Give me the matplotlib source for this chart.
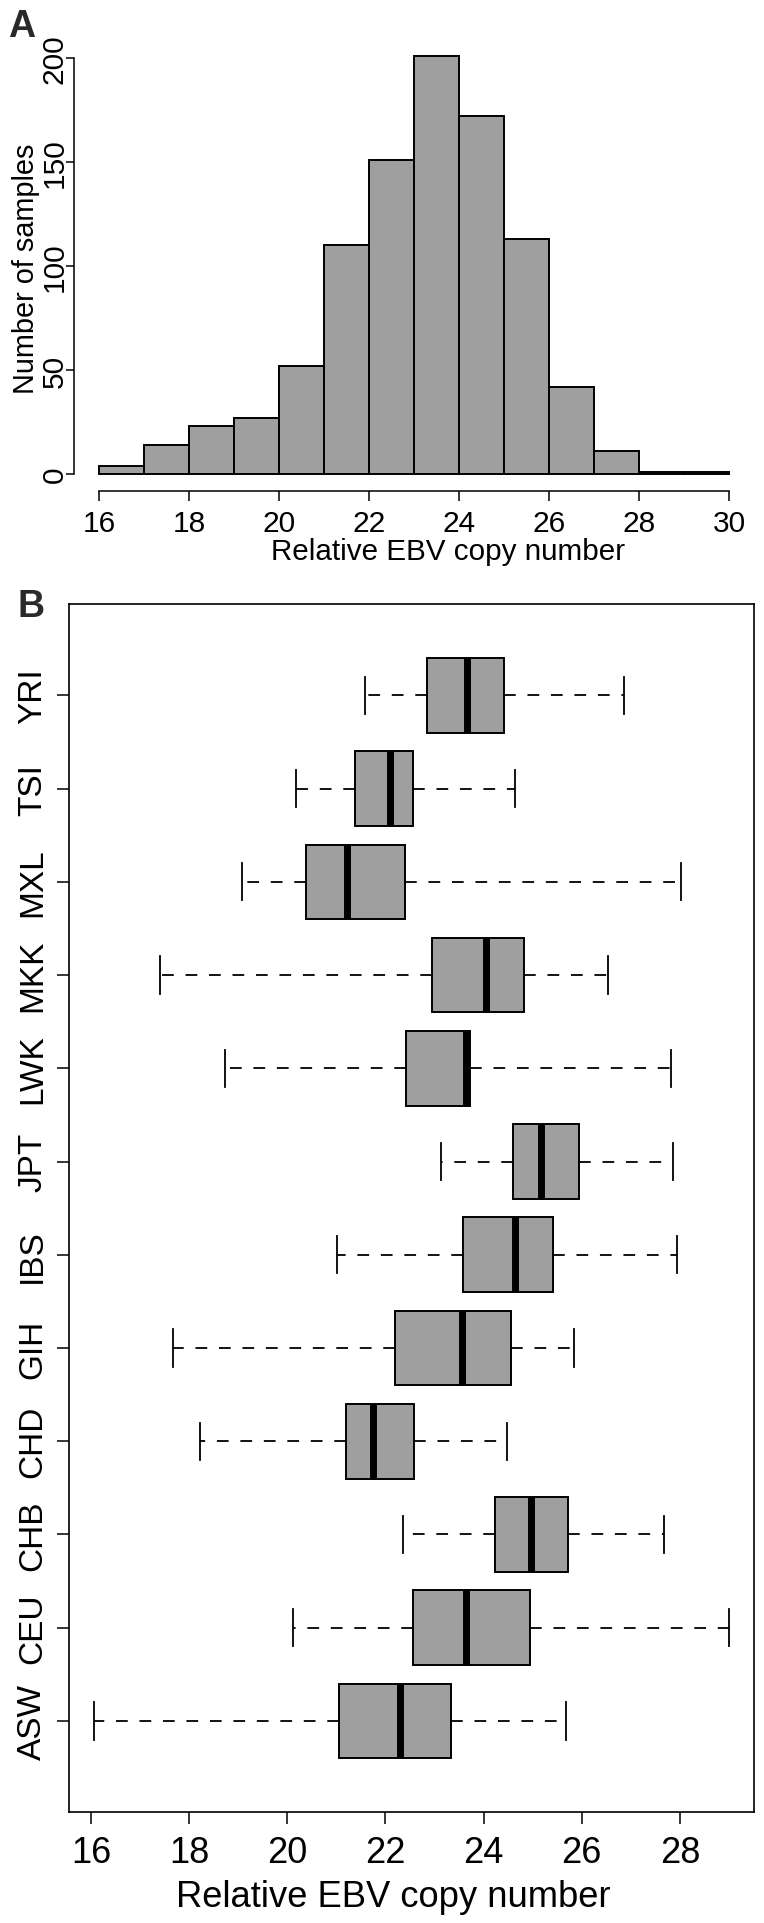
import numpy as np
import matplotlib
matplotlib.use('Agg')
import matplotlib.pyplot as plt

plt.rcParams['font.family'] = ['Liberation Sans', 'DejaVu Sans']

# panel A: histogram of relative EBV copy number
bin_edges = [16, 17, 18, 19, 20, 21, 22, 23, 24, 25, 26, 27, 28, 29, 30]
bin_counts = [4, 14, 23, 27, 52, 110, 151, 201, 172, 113, 42, 11, 1, 1]

# panel B: per-population box stats
populations = ['ASW', 'CEU', 'CHB', 'CHD', 'GIH', 'IBS',
               'JPT', 'LWK', 'MKK', 'MXL', 'TSI', 'YRI']
whisk_lo = [16.07, 20.12, 22.35, 18.23, 17.67, 21.01, 23.13, 18.74, 17.41, 19.07, 20.17, 21.58]
quart_1 = [21.05, 22.56, 24.24, 21.20, 22.19, 23.59, 24.60, 22.42, 22.94, 20.39, 21.39, 22.85]
medians = [22.29, 23.65, 24.96, 21.75, 23.57, 24.65, 25.18, 23.64, 24.05, 21.22, 22.09, 23.66]
quart_3 = [23.34, 24.95, 25.72, 22.59, 24.56, 25.42, 25.95, 23.73, 24.82, 22.40, 22.56, 24.41]
whisk_hi = [25.69, 29.00, 27.67, 24.48, 25.85, 27.95, 27.87, 27.81, 26.54, 28.02, 24.64, 26.86]

W, H = 764, 1924
fig = plt.figure(figsize=(W / 100, H / 100), dpi=100)

GRAY = '#9f9f9f'


def px_box(left, top, right, bottom):
    return [left / W, 1 - bottom / H, (right - left) / W, (bottom - top) / H]


# ---------------- A ----------------
axA = fig.add_axes(px_box(74, 40.3, 754.5, 491.7))
lefts = bin_edges[:-1]
widths = np.diff(bin_edges)
axA.bar(lefts, bin_counts, width=widths, align='edge', color=GRAY,
        edgecolor='black', linewidth=1.4)
span = bin_edges[-1] - bin_edges[0]
axA.set_xlim(bin_edges[0] - 0.04 * span, bin_edges[-1] + 0.04 * span)
top = max(bin_counts)
axA.set_ylim(-0.04 * top, top * 1.04)
for s in ['top', 'right']:
    axA.spines[s].set_visible(False)
axA.spines['left'].set_bounds(0, 200)
axA.spines['bottom'].set_bounds(16, 30)
for s in ['left', 'bottom']:
    axA.spines[s].set_linewidth(1.1)
axA.set_xticks(range(16, 31, 2))
axA.set_yticks([0, 50, 100, 150, 200])
axA.tick_params(axis='x', length=7, width=1.1, labelsize=21.5, pad=6.5)
axA.tick_params(axis='y', length=6, width=1.1, labelsize=21.5, pad=2.2)
axA.set_yticklabels(['0', '50', '100', '150', '200'], rotation=90,
                    rotation_mode='anchor', ha='center', va='baseline')
fig.text(448 / W, 1 - 560 / H, 'Relative EBV copy number', fontsize=21.3,
         ha='center', va='baseline')
fig.text(34 / W, 1 - 269 / H, 'Number of samples', fontsize=20.8,
         rotation=90, rotation_mode='anchor', ha='center', va='baseline')
fig.text(8 / W, 1 - 37 / H, 'A', fontsize=27, fontweight='bold',
         color='#2a2a2a', ha='left', va='baseline')

# ---------------- B ----------------
axB = fig.add_axes(px_box(69, 605, 754.3, 1813.3))
stats = []
for i, name in enumerate(populations):
    stats.append({'label': name, 'whislo': whisk_lo[i], 'q1': quart_1[i],
                  'med': medians[i], 'q3': quart_3[i], 'whishi': whisk_hi[i],
                  'fliers': []})
axB.bxp(stats, positions=range(1, len(populations) + 1), vert=False,
        widths=0.8, capwidths=0.4, patch_artist=True, showfliers=False,
        boxprops=dict(facecolor=GRAY, edgecolor='black', linewidth=1.4),
        medianprops=dict(color='black', linewidth=5, solid_capstyle='butt'),
        whiskerprops=dict(color='black', linewidth=1.3, linestyle=(0, (6.5, 6.5))),
        capprops=dict(color='black', linewidth=1.3))
lo, hi = min(whisk_lo), max(whisk_hi)
pad = 0.04 * (hi - lo)
axB.set_xlim(lo - pad, hi + pad)
n = len(populations)
axB.set_ylim(0.5 - 0.04 * n, n + 0.5 + 0.04 * n)
for s in axB.spines.values():
    s.set_linewidth(1.2)
axB.set_xticks(range(16, 29, 2))
axB.set_yticks(range(1, n + 1))
axB.tick_params(axis='x', length=8.6, width=1.1, labelsize=26, pad=8)
axB.tick_params(axis='y', length=8.6, width=1.1, labelsize=24, pad=11.5)
axB.set_yticklabels(populations, rotation=90, rotation_mode='anchor',
                    ha='center', va='baseline')
fig.text(393 / W, 1 - 1907 / H, 'Relative EBV copy number', fontsize=26.2,
         ha='center', va='baseline')
fig.text(18 / W, 1 - 617 / H, 'B', fontsize=27, fontweight='bold',
         color='#2a2a2a', ha='left', va='baseline')

fig.savefig('out.png', dpi=100)
